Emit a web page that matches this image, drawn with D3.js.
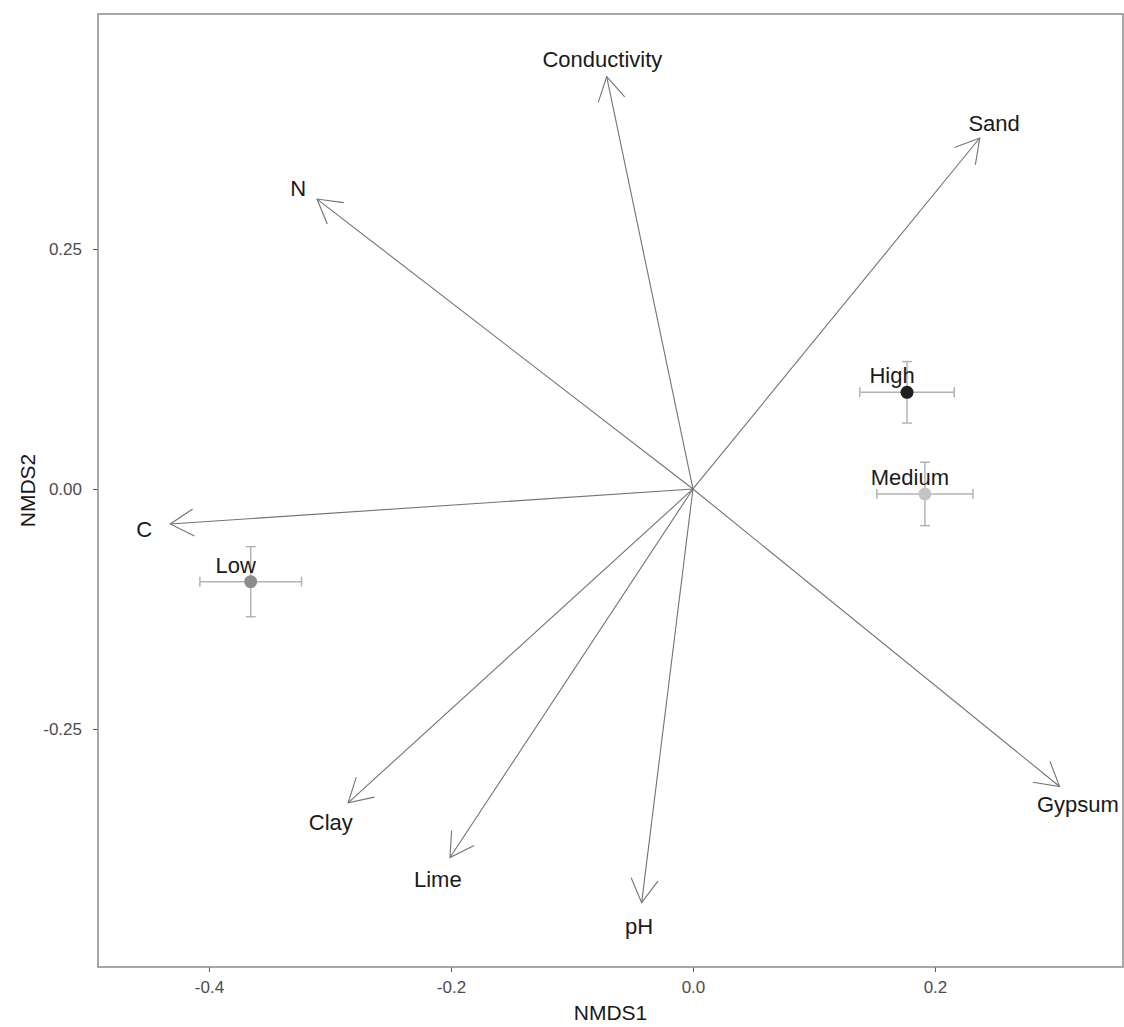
<!DOCTYPE html>
<html><head><meta charset="utf-8">
<script src="https://cdn.jsdelivr.net/npm/d3@7"></script>
<style>body{margin:0;background:#fff;} text{font-family:"Liberation Sans",Arial,sans-serif;}</style>
</head><body>
<svg id="chart" width="1124" height="1027"></svg>
<script>
// Environmental vectors (NMDS1, NMDS2)
const vectorNames = ["Conductivity","Sand","N","C","Clay","Lime","pH","Gypsum"];
const vectorX = [-0.0713, 0.237, -0.3107, -0.432, -0.285, -0.2008, -0.0424, 0.303];
const vectorY = [0.4295, 0.3656, 0.302, -0.0365, -0.327, -0.384, -0.431, -0.310];
// Group centroids with standard errors
const groupNames = ["High","Medium","Low"];
const groupX = [0.1769, 0.1917, -0.3655];
const groupY = [0.1007, -0.0052, -0.0966];
const groupSEx = [0.039, 0.0397, 0.042];
const groupSEy = [0.032, 0.033, 0.0365];
const groupColors = ["#1f1f1f","#c4c4c4","#8c8c8c"];
const xTicks = [-0.4,-0.2,0.0,0.2];
const yTicks = [-0.25,0.00,0.25];
const xTickLabels = ["-0.4","-0.2","0.0","0.2"];
const yTickLabels = ["-0.25","0.00","0.25"];

const svg = d3.select("#chart");
const L=98, R=1123, T=14, B=967;
const x = d3.scaleLinear().domain([-0.4917,0.3554]).range([L,R]);
const y = d3.scaleLinear().domain([-0.498,0.4948]).range([B,T]);

// axes
const xAxis = d3.axisBottom(x).tickValues(xTicks).tickFormat((d,i)=>xTickLabels[i]).tickSize(5).tickPadding(9);
const yAxis = d3.axisLeft(y).tickValues(yTicks).tickFormat((d,i)=>yTickLabels[i]).tickSize(5).tickPadding(11);
const gx = svg.append("g").attr("transform",`translate(0,${B})`).call(xAxis);
const gy = svg.append("g").attr("transform",`translate(${L},0)`).call(yAxis);
[gx,gy].forEach(g=>{
  g.select(".domain").remove();
  g.selectAll(".tick line").attr("stroke","#555").attr("stroke-width",1);
  g.selectAll(".tick text").attr("fill","#4d4d4d").style("font-size","17px");
});

// panel border
svg.append("rect").attr("x",L).attr("y",T).attr("width",R-L).attr("height",B-T)
  .attr("fill","none").attr("stroke","#8a8a8a").attr("stroke-width",1.5);

// axis titles
svg.append("text").attr("x",(L+R)/2).attr("y",1020).attr("text-anchor","middle")
  .style("font-size","21px").attr("fill","#1a1a1a").text("NMDS1");
svg.append("text").attr("transform",`translate(35,${(T+B)/2}) rotate(-90)`).attr("text-anchor","middle")
  .style("font-size","21px").attr("fill","#1a1a1a").text("NMDS2");

// vectors
const vecs = vectorNames.map((n,i)=>({n, vx:vectorX[i], vy:vectorY[i]}));
const gv = svg.append("g");
const headLen = 27, headAng = 30*Math.PI/180;
vecs.forEach(d=>{
  const x0=x(0), y0=y(0), x1=x(d.vx), y1=y(d.vy);
  gv.append("line").attr("x1",x0).attr("y1",y0).attr("x2",x1).attr("y2",y1)
    .attr("stroke","#737373").attr("stroke-width",1.1);
  const a = Math.atan2(y0-y1, x0-x1);
  const p1=[x1+headLen*Math.cos(a+headAng), y1+headLen*Math.sin(a+headAng)];
  const p2=[x1+headLen*Math.cos(a-headAng), y1+headLen*Math.sin(a-headAng)];
  gv.append("path").attr("d",`M${p1[0]},${p1[1]}L${x1},${y1}L${p2[0]},${p2[1]}`)
    .attr("fill","none").attr("stroke","#737373").attr("stroke-width",1.1);
  gv.append("text").attr("x",x(d.vx*1.05)).attr("y",y(d.vy*1.05)).attr("dy","0.5em")
    .attr("text-anchor","middle").style("font-size","22px").attr("fill","#1a1a1a").text(d.n);
});

// group centroids with error bars
const groups = groupNames.map((n,i)=>({n, gx:groupX[i], gy:groupY[i], sx:groupSEx[i], sy:groupSEy[i], c:groupColors[i]}));
const gg = svg.append("g");
const cap = 5;
groups.forEach(d=>{
  const cx=x(d.gx), cy=y(d.gy);
  const xl=x(d.gx-d.sx), xr=x(d.gx+d.sx), yt=y(d.gy+d.sy), yb=y(d.gy-d.sy);
  const ln=(a,b,c2,e)=>gg.append("line").attr("x1",a).attr("y1",b).attr("x2",c2).attr("y2",e).attr("stroke","#b3b3b3").attr("stroke-width",1.5);
  ln(xl,cy,xr,cy); ln(xl,cy-cap,xl,cy+cap); ln(xr,cy-cap,xr,cy+cap);
  ln(cx,yt,cx,yb); ln(cx-cap,yt,cx+cap,yt); ln(cx-cap,yb,cx+cap,yb);
  gg.append("circle").attr("cx",cx).attr("cy",cy).attr("r",6.5).attr("fill",d.c);
  gg.append("text").attr("x",x(d.gx-0.0124)).attr("y",y(d.gy+0.0175)).attr("dy","0.35em")
    .attr("text-anchor","middle").style("font-size","22px").attr("fill","#1a1a1a").text(d.n);
});
</script>
</body></html>
